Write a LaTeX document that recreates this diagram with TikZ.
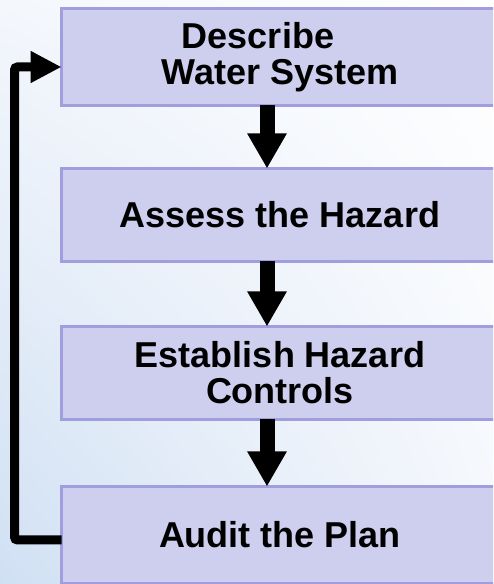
\documentclass[tikz,border=0pt]{standalone}
\usepackage{fontspec}
\setmainfont{Liberation Sans}
\usepackage{tikz}
\usetikzlibrary{arrows.meta,positioning,shadings}
\definecolor{boxfill}{RGB}{206,206,238}
\definecolor{boxline}{RGB}{160,158,222}
\definecolor{bgblue}{RGB}{208,224,243}
\definecolor{bgpale}{RGB}{244,247,252}

\begin{document}
\begin{tikzpicture}
	[x=1pt, y=1pt, inner sep=0pt,
	font=\fontsize{36}{36}\selectfont\bfseries,
	step box/.style	= {rectangle, draw=boxline, fill=boxfill, line width=3pt, outer sep=0pt,
						minimum width=437pt, minimum height=97pt, align=center},
	flow/.style		= {-{Triangle[length=35pt,width=37pt]}, line width=15pt},
	loop/.style		= {-{Triangle[length=31pt,width=30pt]}, line width=9pt, rounded corners=3pt}]
	
	\useasboundingbox (0,0) rectangle (493,584);
	\clip (0,0) rectangle (493,584);
	\shade [lower left=bgblue, upper left=bgpale, upper right=white, lower right=bgpale]
		(0,0) rectangle (493,584);
	
	\node at (280, 527)	[step box]						(describe)	{Describe\hspace*{44pt}\\Water System};
	\node at (280, 369)	[step box, minimum height=93pt]	(assess)	{Assess the Hazard};
	\node at (280, 211)	[step box, minimum height=93pt]	(controls)	{Establish Hazard\\Controls};
	\node at (280, 49)	[step box]						(audit)		{Audit the Plan};
	
	\draw [flow] ([xshift=-13pt]describe.south) -- ([xshift=-13pt]assess.north);
	\draw [flow] ([xshift=-13pt]assess.south) -- ([xshift=-13pt]controls.north);
	\draw [flow] ([xshift=-13pt]controls.south) -- ([xshift=-13pt]audit.north);
	
	\draw [loop] ([yshift=-5pt]audit.west) -- ++(-47,0) |- ([yshift=-10pt]describe.west);
	
	\end{tikzpicture}
\end{document}
